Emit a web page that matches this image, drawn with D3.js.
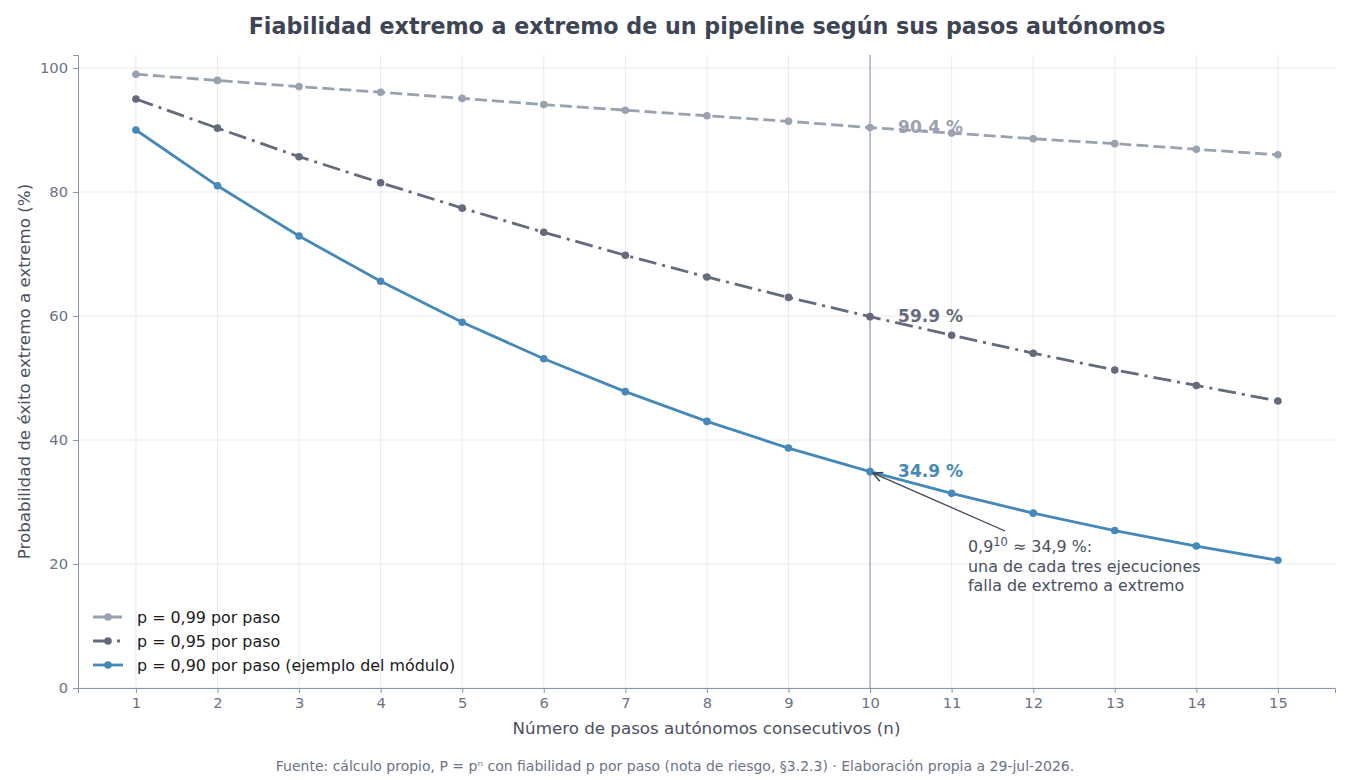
<!DOCTYPE html>
<html>
<head>
<meta charset="utf-8">
<script src="https://cdn.jsdelivr.net/npm/d3@7"></script>
<style>
  html, body { margin: 0; padding: 0; background: #fff; }
  svg { display: block; font-family: "DejaVu Sans", sans-serif; }
</style>
</head>
<body>
<svg id="chart" width="1350" height="780"></svg>
<script>
// ---- data ----
const steps = [1, 2, 3, 4, 5, 6, 7, 8, 9, 10, 11, 12, 13, 14, 15];
const p099 = [99.0, 98.0, 97.0, 96.1, 95.1, 94.1, 93.2, 92.3, 91.4, 90.4, 89.5, 88.6, 87.8, 86.9, 86.0];
const p095 = [95.0, 90.3, 85.7, 81.5, 77.4, 73.5, 69.8, 66.3, 63.0, 59.9, 56.9, 54.0, 51.3, 48.8, 46.3];
const p090 = [90.0, 81.0, 72.9, 65.6, 59.0, 53.1, 47.8, 43.0, 38.7, 34.9, 31.4, 28.2, 25.4, 22.9, 20.6];
const yTicks = [0, 20, 40, 60, 80, 100];
const markN = 10;

const series = [
  { name: 'p = 0,99 por paso', values: p099, color: '#9aa1b0', dash: '12,5' },
  { name: 'p = 0,95 por paso', values: p095, color: '#646b7c', dash: '18,6,3,6' },
  { name: 'p = 0,90 por paso (ejemplo del módulo)', values: p090, color: '#4689b8', dash: null }
];

// ---- layout ----
const svg = d3.select('#chart');
const margin = { left: 78, right: 15, top: 55, bottom: 92 };
const W = 1350, H = 780;
const iw = W - margin.left - margin.right;
const ih = H - margin.top - margin.bottom;

const x = d3.scaleLinear().domain([0.29, 15.7]).range([0, iw]);
const y = d3.scaleLinear().domain([0, 102.1]).range([ih, 0]);

const g = svg.append('g').attr('transform', `translate(${margin.left},${margin.top})`);

// grid
g.append('g').selectAll('line').data(steps).join('line')
  .attr('x1', d => x(d)).attr('x2', d => x(d))
  .attr('y1', 0).attr('y2', ih)
  .attr('stroke', '#e3e5ec').attr('stroke-width', 0.8);
g.append('g').selectAll('line').data(yTicks).join('line')
  .attr('x1', 0).attr('x2', iw)
  .attr('y1', d => y(d)).attr('y2', d => y(d))
  .attr('stroke', '#e3e5ec').attr('stroke-width', 0.8);

// vertical marker at n = 10
g.append('line')
  .attr('x1', x(markN)).attr('x2', x(markN))
  .attr('y1', 0).attr('y2', ih)
  .attr('stroke', '#a9adc4').attr('stroke-width', 1.5);

// axes
const xAxis = g.append('g').attr('transform', `translate(0,${ih})`)
  .call(d3.axisBottom(x).tickValues(steps).tickFormat(d3.format('d')).tickSize(5).tickPadding(5));
const yAxis = g.append('g')
  .call(d3.axisLeft(y).tickValues(yTicks).tickSize(5).tickPadding(5));
[xAxis, yAxis].forEach(a => {
  a.select('.domain').attr('stroke', '#8a94aa').attr('stroke-width', 1);
  a.selectAll('.tick line').attr('stroke', '#8a94aa');
  a.selectAll('.tick text').attr('fill', '#6b7385').style('font-size', '14.7px')
    .style('font-family', '"DejaVu Sans", sans-serif');
});

// lines
const line = d3.line().x((d, i) => x(steps[i])).y(d => y(d));
series.forEach(s => {
  g.append('path').datum(s.values)
    .attr('d', line)
    .attr('fill', 'none')
    .attr('stroke', s.color)
    .attr('stroke-width', 2.8)
    .attr('stroke-dasharray', s.dash);
  g.append('g').selectAll('circle').data(s.values).join('circle')
    .attr('cx', (d, i) => x(steps[i]))
    .attr('cy', d => y(d))
    .attr('r', 3.8)
    .attr('fill', s.color);
});

// value labels at n = 10
series.forEach(s => {
  const v = s.values[steps.indexOf(markN)];
  g.append('text')
    .attr('x', x(markN) + 28).attr('y', y(v) + 5.5)
    .attr('fill', s.color)
    .style('font-size', '17px').style('font-weight', 'bold')
    .text(d3.format('.1f')(v) + ' %');
});

// annotation
const v10 = p090[steps.indexOf(markN)];
const defs = svg.append('defs');
defs.append('marker').attr('id', 'arr')
  .attr('viewBox', '0 0 10 10').attr('refX', 9).attr('refY', 5)
  .attr('markerWidth', 9).attr('markerHeight', 9).attr('orient', 'auto')
  .append('path').attr('d', 'M1,1 L9,5 L1,9').attr('fill', 'none')
  .attr('stroke', '#3d4454').attr('stroke-width', 1.3);
g.append('line')
  .attr('x1', 1005 - margin.left).attr('y1', 531 - margin.top)
  .attr('x2', x(markN) + 3).attr('y2', y(v10) + 1.5)
  .attr('stroke', '#3d4454').attr('stroke-width', 1.3)
  .attr('marker-end', 'url(#arr)');
const ann = g.append('text').attr('fill', '#4a5060').style('font-size', '15.9px');
const ax = 968 - margin.left;
const t1 = ann.append('tspan').attr('x', ax).attr('y', 552 - margin.top);
t1.append('tspan').text('0,9');
t1.append('tspan').attr('dy', -6).style('font-size', '11.5px').text('10');
t1.append('tspan').attr('dy', 6).text(' ≈ 34,9 %:');
ann.append('tspan').attr('x', ax).attr('y', 572 - margin.top).text('una de cada tres ejecuciones');
ann.append('tspan').attr('x', ax).attr('y', 591 - margin.top).text('falla de extremo a extremo');

// legend
const lg = g.append('g').attr('transform', `translate(${93 - margin.left},${617 - margin.top})`);
series.forEach((s, i) => {
  const row = lg.append('g').attr('transform', `translate(0,${i * 24})`);
  row.append('line').attr('x1', 0).attr('x2', 30).attr('y1', 0).attr('y2', 0)
    .attr('stroke', s.color).attr('stroke-width', 2.8)
    .attr('stroke-dasharray', s.dash);
  row.append('circle').attr('cx', 15).attr('cy', 0).attr('r', 3.8).attr('fill', s.color);
  row.append('text').attr('x', 44).attr('y', 6)
    .attr('fill', '#1a1a1a').style('font-size', '15.9px').text(s.name);
});

// titles
svg.append('text').attr('x', 707).attr('y', 34).attr('text-anchor', 'middle')
  .attr('fill', '#3d4454').style('font-size', '22.2px').style('font-weight', 'bold')
  .text('Fiabilidad extremo a extremo de un pipeline según sus pasos autónomos');
svg.append('text').attr('x', margin.left + iw / 2).attr('y', 734).attr('text-anchor', 'middle')
  .attr('fill', '#4a5060').style('font-size', '16.7px')
  .text('Número de pasos autónomos consecutivos (n)');
svg.append('text')
  .attr('transform', `translate(30,${margin.top + ih / 2}) rotate(-90)`)
  .attr('text-anchor', 'middle')
  .attr('fill', '#4a5060').style('font-size', '16.7px')
  .text('Probabilidad de éxito extremo a extremo (%)');
svg.append('text').attr('x', 675).attr('y', 771).attr('text-anchor', 'middle')
  .attr('fill', '#6b7385').style('font-size', '14px')
  .text('Fuente: cálculo propio, P = pⁿ con fiabilidad p por paso (nota de riesgo, §3.2.3) · Elaboración propia a 29-jul-2026.');
</script>
</body>
</html>
